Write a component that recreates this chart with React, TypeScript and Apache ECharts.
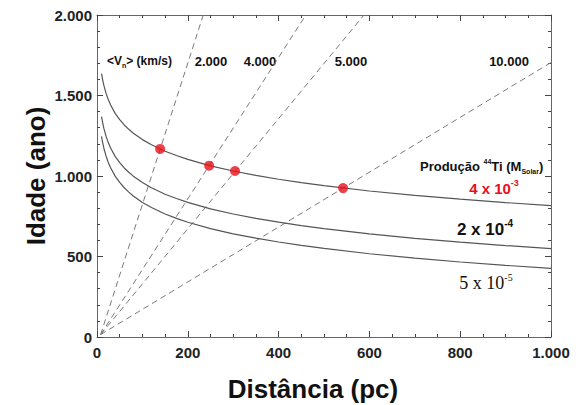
import React, { useEffect, useRef } from "react";
import * as echarts from "echarts";

const distances = [10, 12, 15, 20, 25, 30, 40, 50, 60, 70, 80, 100, 120, 150, 175, 200, 250, 300, 350, 400, 450, 500, 600, 700, 800, 900, 1000];
const ageHigh = [1636, 1604, 1564, 1513, 1473, 1441, 1389, 1350, 1317, 1290, 1266, 1226, 1194, 1154, 1127, 1103, 1063, 1031, 1004, 980, 959, 940, 907, 880, 856, 835, 816];
const ageMid = [1369, 1337, 1297, 1246, 1206, 1174, 1122, 1083, 1050, 1023, 999, 959, 927, 887, 860, 836, 796, 764, 737, 713, 692, 673, 640, 613, 589, 568, 549];
const ageLow = [1246, 1214, 1174, 1123, 1083, 1051, 999, 960, 927, 900, 876, 836, 804, 764, 737, 713, 673, 641, 614, 590, 569, 550, 517, 490, 466, 445, 426];

const velocityLabels = ["2.000", "4.000", "5.000", "10.000"];
const velocityLines = [
  [[8, 15], [234, 2000]],
  [[8, 15], [460, 2000]],
  [[8, 15], [588, 2000]],
  [[8, 15], [1000, 1705]],
];
const redDots = [[139, 1168], [247, 1064], [304, 1031], [542, 925]];

const fmt = (v: number) =>
  v >= 1000 ? Math.floor(v / 1000) + "." + String(v % 1000).padStart(3, "0") : String(v);

export default function App() {
  const ref = useRef<HTMLDivElement>(null);
  useEffect(() => {
    const chart = echarts.init(ref.current!, null, { renderer: "svg" });
    const font = "'Liberation Sans', Arial, sans-serif";
    const serif = "'Liberation Serif', 'Times New Roman', serif";
    const axisCommon = {
      type: "value" as const,
      axisLine: { show: true, onZero: false, lineStyle: { color: "#666", width: 1 } },
      axisTick: { show: true, inside: true, length: 6, lineStyle: { color: "#444" } },
      minorTick: { show: true, length: 3, lineStyle: { color: "#444" } },
      splitLine: { show: false },
      minorSplitLine: { show: false },
    };
    const curve = (data: number[]) => ({
      type: "line",
      data: distances.map((d, i) => [d, data[i]]),
      showSymbol: false,
      smooth: false,
      lineStyle: { color: "#555", width: 1.2 },
      silent: true,
    });
    const dash = (pts: number[][]) => ({
      type: "line",
      data: pts,
      showSymbol: false,
      lineStyle: { color: "#7a7a7a", width: 1, type: [6, 4] },
      silent: true,
    });
    const sup = (f: string, size: number, c: string, bold: boolean) => ({
      fontFamily: f, fontWeight: bold ? "bold" : "normal", fontSize: size, fill: c, lineHeight: size, verticalAlign: "top",
    });
    const main = (f: string, size: number, c: string, bold: boolean) => ({
      fontFamily: f, fontWeight: bold ? "bold" : "normal", fontSize: size, fill: c, lineHeight: size + 4, verticalAlign: "middle",
    });
    const sub = (f: string, size: number, c: string) => ({
      fontFamily: f, fontWeight: "bold", fontSize: size, fill: c, lineHeight: size, verticalAlign: "bottom",
    });
    const option: any = {
      animation: false,
      backgroundColor: "#fff",
      grid: { left: 97, right: 25, top: 15, bottom: 68 },
      xAxis: [
        {
          ...axisCommon,
          min: 0,
          max: 1000,
          interval: 200,
          position: "bottom",
          minorTick: { ...axisCommon.minorTick, splitNumber: 4 },
          axisLabel: { fontFamily: font, fontWeight: "bold", fontSize: 15, color: "#222", margin: 8, formatter: fmt },
        },
        {
          ...axisCommon,
          min: 0,
          max: 1000,
          interval: 200,
          position: "top",
          minorTick: { ...axisCommon.minorTick, splitNumber: 4 },
          axisLabel: { show: false },
        },
      ],
      yAxis: [
        {
          ...axisCommon,
          min: 0,
          max: 2000,
          interval: 500,
          position: "left",
          minorTick: { ...axisCommon.minorTick, splitNumber: 5 },
          axisLabel: { fontFamily: font, fontWeight: "bold", fontSize: 15, color: "#222", margin: 5, formatter: fmt },
        },
        {
          ...axisCommon,
          min: 0,
          max: 2000,
          interval: 500,
          position: "right",
          minorTick: { ...axisCommon.minorTick, splitNumber: 5 },
          axisLabel: { show: false },
        },
      ],
      series: [
        ...velocityLines.map(dash),
        curve(ageHigh),
        curve(ageMid),
        curve(ageLow),
        {
          type: "scatter",
          data: redDots,
          symbolSize: 10,
          itemStyle: { color: "#e8101a" },
          z: 5,
        },
      ],
      graphic: [
        {
          type: "text",
          x: 36,
          y: 176,
          rotation: Math.PI / 2,
          style: { text: "Idade (ano)", font: `bold 26px ${font}`, fill: "#111", align: "center", verticalAlign: "middle" },
        },
        {
          type: "text",
          x: 313,
          y: 389,
          style: { text: "Distância (pc)", font: `bold 26px ${font}`, fill: "#111", align: "center", verticalAlign: "middle" },
        },
        {
          type: "text",
          x: 107,
          y: 61,
          style: {
            text: "{a|<V}{s|n}{a|> (km/s)}",
            verticalAlign: "middle",
            rich: { a: main(font, 12, "#111", true), s: sub(font, 7, "#111") },
          },
        },
        ...[211, 260, 351, 509].map((x, i) => ({
          type: "text",
          x,
          y: 61,
          style: { text: velocityLabels[i], font: `bold 13px ${font}`, fill: "#111", align: "center", verticalAlign: "middle" },
        })),
        {
          type: "text",
          x: 420,
          y: 166,
          style: {
            text: "{a|Produção }{p|44}{a|Ti (M}{s|Solar}{a|)}",
            verticalAlign: "middle",
            rich: { a: main(font, 13, "#111", true), p: sup(font, 7, "#111", true), s: sub(font, 7, "#111") },
          },
        },
        {
          type: "text",
          x: 494,
          y: 188,
          style: {
            text: "{a|4 x 10}{p|-3}",
            align: "center",
            verticalAlign: "middle",
            rich: { a: main(font, 15, "#e8101a", true), p: sup(font, 9, "#e8101a", true) },
          },
        },
        {
          type: "text",
          x: 485,
          y: 229,
          style: {
            text: "{a|2 x 10}{p|-4}",
            align: "center",
            verticalAlign: "middle",
            rich: { a: main(font, 17, "#111", true), p: sup(font, 10, "#111", true) },
          },
        },
        {
          type: "text",
          x: 486,
          y: 283,
          style: {
            text: "{a|5 x 10}{p|-5}",
            align: "center",
            verticalAlign: "middle",
            rich: { a: main(serif, 18, "#111", false), p: sup(serif, 10, "#111", false) },
          },
        },
      ],
    };
    chart.setOption(option);
    return () => chart.dispose();
  }, []);
  return <div ref={ref} style={{ width: 576, height: 405, position: "absolute", left: 0, top: 0 }} />;
}
